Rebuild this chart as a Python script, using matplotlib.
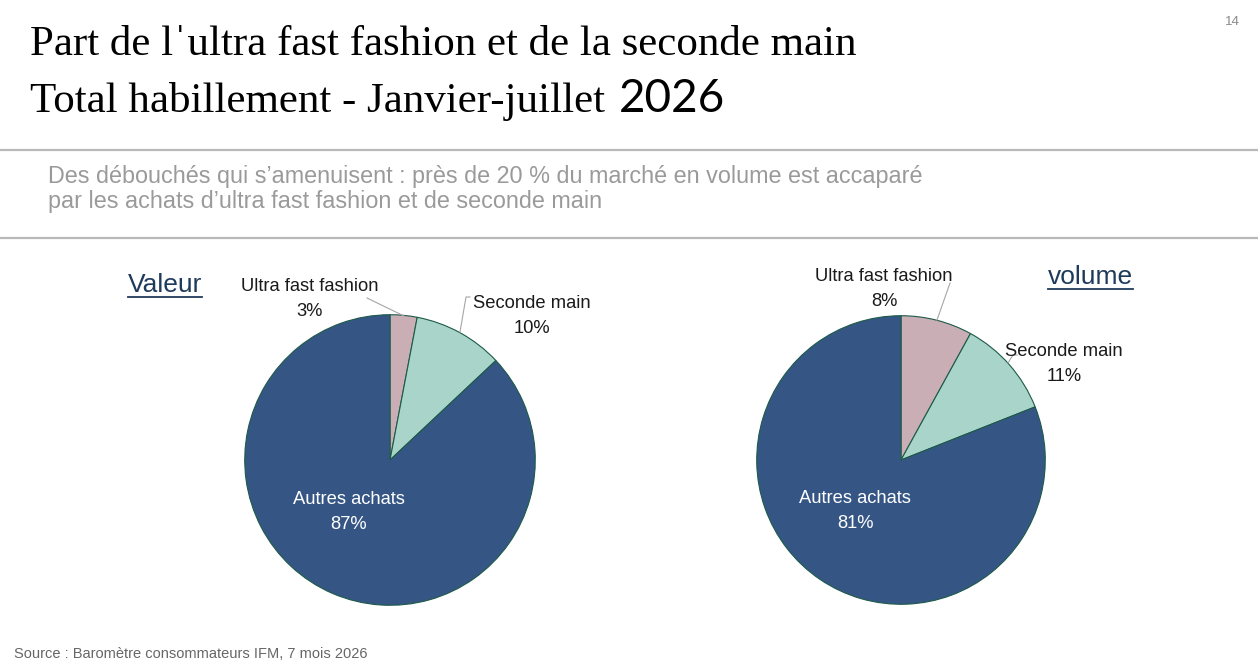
import matplotlib
matplotlib.use("Agg")
import matplotlib.pyplot as plt

# ---- data ----
categories = ["Ultra fast fashion", "Seconde main", "Autres achats"]
valeur_pct = [3, 10, 87]
volume_pct = [8, 11, 81]
panel_titles = ["Valeur", "volume"]

title_line1 = "Part de l\u02c8ultra fast fashion et de la seconde main"
title_line2a = "Total habillement - Janvier-juillet"
title_line2b = "2026"
subtitle = ("Des débouchés qui s\u2019amenuisent : près de 20 % du marché en volume est accaparé\n"
            "par les achats d\u2019ultra fast fashion et de seconde main")
source = "Source : Baromètre consommateurs IFM, 7 mois 2026"
page_no = "14"

colors = ["#c9aeb6", "#a9d4c9", "#355685"]
edge = "#1d5a48"

W, H = 1258, 667
fig = plt.figure(figsize=(W / 100, H / 100), dpi=100)
fig.patch.set_facecolor("white")


def draw_pie(cx, cy, r, values):
    ax = fig.add_axes([(cx - r) / W, (H - cy - r) / H, 2 * r / W, 2 * r / H])
    ax.pie(values, colors=colors, startangle=90, counterclock=False, radius=1,
           wedgeprops=dict(edgecolor=edge, linewidth=0.8))
    ax.set_xlim(-1.005, 1.005)
    ax.set_ylim(-1.005, 1.005)
    ax.axis("off")
    return ax


draw_pie(390, 460, 146, valeur_pct)
draw_pie(901, 460, 145, volume_pct)

# overlay axes in pixel coords (on top)
ov = fig.add_axes([0, 0, 1, 1])
ov.set_zorder(10)
ov.patch.set_alpha(0)
ov.set_xlim(0, W)
ov.set_ylim(H, 0)
ov.axis("off")

# titles
ov.text(30, 55, title_line1, family="Liberation Serif", fontsize=31, color="black", va="baseline")
t2a = ov.text(30, 112, title_line2a, family="Liberation Serif", fontsize=31, color="black", va="baseline")
ov.text(1240, 22, page_no, family="Liberation Sans", fontsize=9.5, color="#8a8a8a", ha="right", va="center")

# separators
ov.plot([0, W], [150, 150], color="#b9b9b9", lw=1.6)
ov.plot([0, W], [238, 238], color="#b9b9b9", lw=1.6)

ov.text(48, 189, subtitle, family="Liberation Sans", fontsize=16.8, color="#9a9a9a",
        va="center", linespacing=1.1)
ov.text(14, 654, source, family="Liberation Sans", fontsize=10.5, color="#666666", va="center")

lab_kw = dict(family="Liberation Sans", fontsize=13.2, ha="center", va="center", linespacing=1.58)
line_c = "#a6a6a6"

# left pie labels
ov.text(310, 299, f"{categories[0]}\n{valeur_pct[0]}%", color="#1a1a1a", **lab_kw)
ov.text(532, 316, f"{categories[1]}\n{valeur_pct[1]}%", color="#1a1a1a", **lab_kw)
ov.text(349, 512, f"{categories[2]}\n{valeur_pct[2]}%", color="white", **lab_kw)
ov.plot([367, 404], [298, 316], color=line_c, lw=0.8)
ov.plot([470, 466, 460], [297, 297, 332], color=line_c, lw=0.8)

# right pie labels
ov.text(884, 289, f"{categories[0]}\n{volume_pct[0]}%", color="#1a1a1a", **lab_kw)
ov.text(1064, 364, f"{categories[1]}\n{volume_pct[1]}%", color="#1a1a1a", **lab_kw)
ov.text(855, 511, f"{categories[2]}\n{volume_pct[2]}%", color="white", **lab_kw)
ov.plot([950, 937], [283, 320], color=line_c, lw=0.8)
ov.plot([1017, 1013, 1008], [355, 355, 363], color=line_c, lw=0.8)

# panel titles (underlined)
pt_kw = dict(family="Liberation Sans", fontsize=19, color="#1f3b5c", va="baseline")
t1 = ov.text(128, 292, panel_titles[0], **pt_kw)
t2 = ov.text(1048, 284, panel_titles[1], **pt_kw)

fig.canvas.draw()
r = fig.canvas.get_renderer()
inv = ov.transData.inverted()
for t, y in [(t1, 297), (t2, 289)]:
    bb = t.get_window_extent(r)
    x0 = inv.transform((bb.x0, 0))[0]
    x1 = inv.transform((bb.x1, 0))[0]
    ov.plot([x0, x1], [y, y], color="#1f3b5c", lw=1.3)

bb = t2a.get_window_extent(r)
xe = inv.transform((bb.x1, 0))[0]
ov.text(xe + 14, 112, title_line2b, family="Lato", fontsize=33, color="black", va="baseline")

fig.savefig("out.png", dpi=100, facecolor="white")
